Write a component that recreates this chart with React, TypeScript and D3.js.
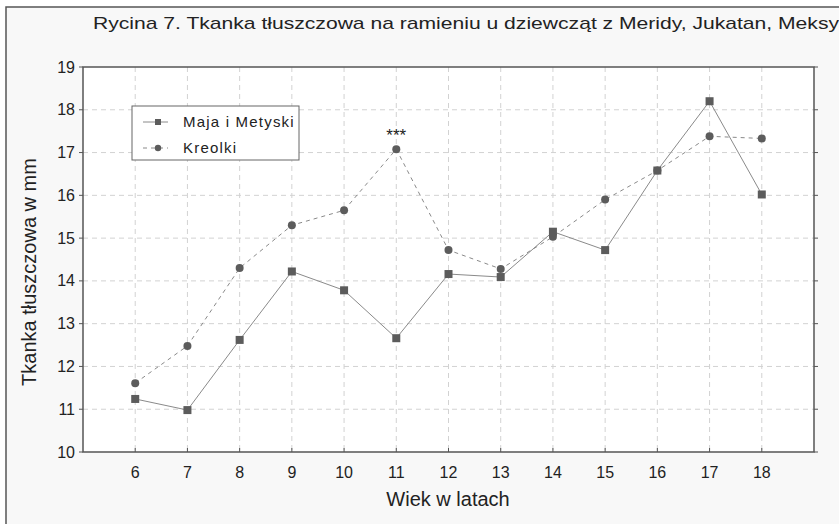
import React from 'react';
import * as d3 from 'd3';

const ages = [6, 7, 8, 9, 10, 11, 12, 13, 14, 15, 16, 17, 18];
const maja = [11.24, 10.98, 12.62, 14.22, 13.78, 12.66, 14.16, 14.09, 15.15, 14.72, 16.58, 18.2, 16.02];
const kreolki = [11.61, 12.48, 14.3, 15.3, 15.65, 17.08, 14.72, 14.28, 15.03, 15.9, 16.58, 17.38, 17.33];
const yTicks = [10, 11, 12, 13, 14, 15, 16, 17, 18, 19];
const seriesNames = ['Maja i Metyski', 'Kreolki'];

const W = 839;
const H = 524;
const font = '"Liberation Sans", Arial, sans-serif';

const App = () => {
  const x = d3.scaleLinear().domain([5, 19]).range([83, 814]);
  const y = d3.scaleLinear().domain([10, 19]).range([452, 67]);
  const line = d3.line<number>()
    .x((d, i) => x(ages[i]))
    .y(d => y(d));

  const markColor = '#5c5c5c';
  const lineColor = '#8a8a8a';

  return (
    <svg width={W} height={H} style={{ position: 'absolute', left: 0, top: 0 }} fontFamily={font}>
      <rect x={0} y={0} width={W} height={H} fill="#fff" />
      <rect x={6} y={7} width={W + 10} height={H + 10} fill="#f8f8f8" stroke="#555" strokeWidth={1.5} />
      <text x={93} y={29} fontSize={17} fill="#222" textLength={746} lengthAdjust="spacingAndGlyphs">
        Rycina 7. Tkanka tłuszczowa na ramieniu u dziewcząt z Meridy, Jukatan, Meksy
      </text>

      {/* plot area */}
      <rect x={x(5)} y={y(19)} width={x(19) - x(5)} height={y(10) - y(19)} fill="#fff" />
      {ages.map(a => (
        <line key={'vx' + a} x1={x(a)} x2={x(a)} y1={y(19)} y2={y(10)} stroke="#d2d2d2" strokeDasharray="5,4" />
      ))}
      {yTicks.slice(1, -1).map(t => (
        <line key={'gy' + t} x1={x(5)} x2={x(19)} y1={y(t)} y2={y(t)} stroke="#d2d2d2" strokeDasharray="5,4" />
      ))}
      <rect x={x(5)} y={y(19)} width={x(19) - x(5)} height={y(10) - y(19)} fill="none" stroke="#555" strokeWidth={1.5} />

      {/* y ticks */}
      {yTicks.map(t => (
        <g key={'yt' + t}>
          <line x1={x(5) - 4} x2={x(5)} y1={y(t)} y2={y(t)} stroke="#555" />
          <line x1={x(19)} x2={x(19) + 4} y1={y(t)} y2={y(t)} stroke="#555" />
          <text x={x(5) - 8} y={y(t)} dy="0.35em" textAnchor="end" fontSize={16} fill="#222">{t}</text>
        </g>
      ))}
      {/* x ticks */}
      {ages.map(a => (
        <g key={'xt' + a}>
          <line x1={x(a)} x2={x(a)} y1={y(10)} y2={y(10) - 4} stroke="#555" />
          <text x={x(a)} y={478} textAnchor="middle" fontSize={16} fill="#222">{a}</text>
        </g>
      ))}

      {/* series */}
      <path d={line(kreolki) ?? ''} fill="none" stroke={lineColor} strokeWidth={1} strokeDasharray="4,4" />
      <path d={line(maja) ?? ''} fill="none" stroke={lineColor} strokeWidth={1} />
      {kreolki.map((v, i) => (
        <circle key={'c' + i} cx={x(ages[i])} cy={y(v)} r={4} fill={markColor} />
      ))}
      {maja.map((v, i) => (
        <rect key={'s' + i} x={x(ages[i]) - 4} y={y(v) - 4} width={8} height={8} fill={markColor} />
      ))}

      <text x={x(11)} y={y(17.4)} dy="0.35em" textAnchor="middle" fontSize={17} fill="#222">***</text>

      {/* legend */}
      <rect x={132} y={106} width={167} height={54} fill="#fff" stroke="#666" strokeWidth={1} />
      <line x1={143} x2={168} y1={122} y2={122} stroke={lineColor} />
      <rect x={155} y={119} width={6} height={6} fill={markColor} />
      <line x1={143} x2={168} y1={148} y2={148} stroke={lineColor} strokeDasharray="4,4" />
      <circle cx={158} cy={148} r={3.2} fill={markColor} />
      <text x={183} y={122} dy="0.35em" fontSize={15} letterSpacing={1.2} fill="#222">{seriesNames[0]}</text>
      <text x={183} y={148} dy="0.35em" fontSize={15} letterSpacing={1.2} fill="#222">{seriesNames[1]}</text>

      <text transform={`translate(36,272) rotate(-90)`} textAnchor="middle" fontSize={20} fill="#222">
        Tkanka tłuszczowa w mm
      </text>
      <text x={448} y={506} textAnchor="middle" fontSize={20} fill="#222">Wiek w latach</text>
    </svg>
  );
};

export default App;
